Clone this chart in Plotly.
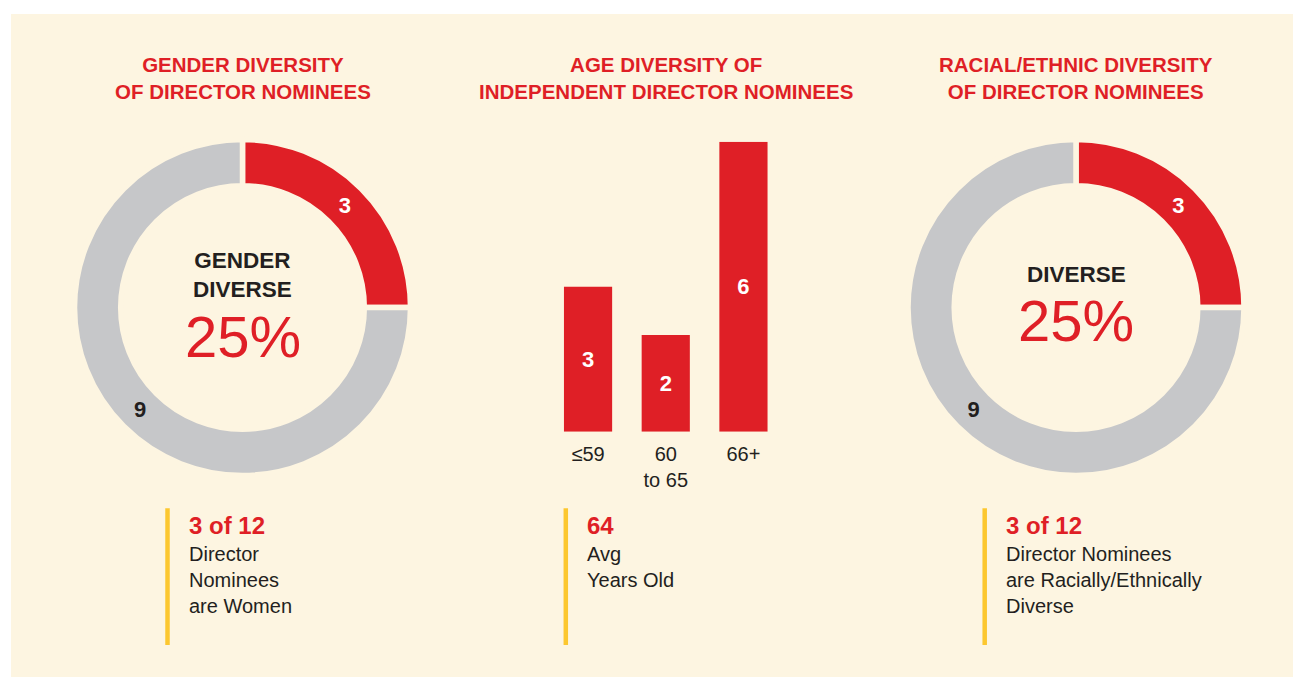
import plotly.graph_objects as go

W, H = 1293, 677

# ---- data ----
gender_labels = ["Women", "Men"]
gender_values = [3, 9]
racial_labels = ["Racially/Ethnically Diverse", "Other"]
racial_values = [3, 9]
age_categories = ["≤59", "60<br>to 65", "66+"]
age_values = [3, 2, 6]

titles = [
    "GENDER DIVERSITY<br>OF DIRECTOR NOMINEES",
    "AGE DIVERSITY OF<br>INDEPENDENT DIRECTOR NOMINEES",
    "RACIAL/ETHNIC DIVERSITY<br>OF DIRECTOR NOMINEES",
]
center_heads = ["GENDER<br>DIVERSE", "DIVERSE"]
center_pcts = ["25%", "25%"]
stat_heads = ["3 of 12", "64", "3 of 12"]
stat_bodies = [
    "Director<br>Nominees<br>are Women",
    "Avg<br>Years Old",
    "Director Nominees<br>are Racially/Ethnically<br>Diverse",
]

# ---- style ----
FONT = "Liberation Sans, Arial, Helvetica, sans-serif"
CREAM = "#fdf5e1"
RED = "#df1f26"
GRAY = "#c6c7c9"
DARK = "#231f20"
YELLOW = "#fcc72f"


def px(x):
    return x / W


def py(y):
    return 1 - y / H


fig = go.Figure()

# donuts
R = 168
donut_centers = [(242.5, 307.5), (1076, 307.5)]
for (cx, cy), labels, values in [
    (donut_centers[0], gender_labels, gender_values),
    (donut_centers[1], racial_labels, racial_values),
]:
    fig.add_trace(go.Pie(
        labels=labels, values=values,
        hole=0.725, sort=False, direction="clockwise", rotation=0,
        marker=dict(colors=[RED, GRAY], line=dict(color=CREAM, width=5.5)),
        textinfo="value", textposition="inside",
        insidetextorientation="horizontal",
        textfont=dict(family=FONT, size=22, color=["white", DARK], weight="bold"),
        domain=dict(x=[px(cx - R), px(cx + R)], y=[py(cy + R), py(cy - R)]),
        showlegend=False, hoverinfo="label+value",
    ))

# age bars
fig.add_trace(go.Bar(
    x=age_categories, y=age_values, marker=dict(color=RED, line=dict(width=0)),
    width=0.62, text=age_values, textposition="inside", insidetextanchor="middle",
    textfont=dict(family=FONT, size=22, color="white", weight="bold"),
    showlegend=False, cliponaxis=False,
))

fig.update_xaxes(
    domain=[px(549.2), px(782.3)], range=[-0.5, 2.5], type="category",
    showgrid=False, zeroline=False, showline=False, ticks="",
    tickfont=dict(family=FONT, size=20, color=DARK), ticklabelstandoff=8,
    fixedrange=True,
)
fig.update_yaxes(
    domain=[py(431.7), py(141.7)], range=[0, 6], visible=False,
    showgrid=False, zeroline=False, fixedrange=True,
)

annotations = []
# titles
for cx, t in zip([242.5, 665.5, 1076], titles):
    annotations.append(dict(
        x=px(cx), y=py(78), xref="paper", yref="paper", text=t,
        showarrow=False, xanchor="center", yanchor="middle", align="center",
        font=dict(family=FONT, size=20.5, color=RED, weight="bold"),
    ))
# donut center texts
head_y = [274.5, 274.5]
pct_y = [336, 320]
for (cx, cy), hd, pc, hy, pcy in zip(donut_centers, center_heads, center_pcts, head_y, pct_y):
    annotations.append(dict(
        x=px(cx), y=py(hy), xref="paper", yref="paper", text=hd,
        showarrow=False, xanchor="center", yanchor="middle", align="center",
        font=dict(family=FONT, size=22.5, color=DARK, weight="bold"),
    ))
    annotations.append(dict(
        x=px(cx), y=py(pcy), xref="paper", yref="paper", text=pc,
        showarrow=False, xanchor="center", yanchor="middle", align="center",
        font=dict(family=FONT, size=58, color=RED),
    ))

# bottom stat blocks
shapes = [dict(type="rect", xref="paper", yref="paper", x0=px(11), x1=1, y0=0, y1=py(14),
               fillcolor=CREAM, line=dict(width=0), layer="below")]
for lx, hd, body in zip([167.5, 565.8, 984.7], stat_heads, stat_bodies):
    shapes.append(dict(type="line", xref="paper", yref="paper", x0=px(lx), x1=px(lx),
                       y0=py(508.3), y1=py(645), line=dict(color=YELLOW, width=4.5)))
    tx = lx + 19.5
    annotations.append(dict(
        x=px(tx), y=py(525), xref="paper", yref="paper", text=hd,
        showarrow=False, xanchor="left", yanchor="middle", align="left",
        font=dict(family=FONT, size=24, color=RED, weight="bold"),
    ))
    annotations.append(dict(
        x=px(tx), y=py(541), xref="paper", yref="paper", text=body,
        showarrow=False, xanchor="left", yanchor="top", align="left",
        font=dict(family=FONT, size=20, color=DARK),
    ))

fig.update_layout(
    width=W, height=H, autosize=False,
    margin=dict(l=0, r=0, t=0, b=0, pad=0),
    paper_bgcolor="white", plot_bgcolor="rgba(0,0,0,0)",
    font=dict(family=FONT, color=DARK),
    shapes=shapes, annotations=annotations, showlegend=False,
)

fig.write_html("out.html", config={"displayModeBar": False})
